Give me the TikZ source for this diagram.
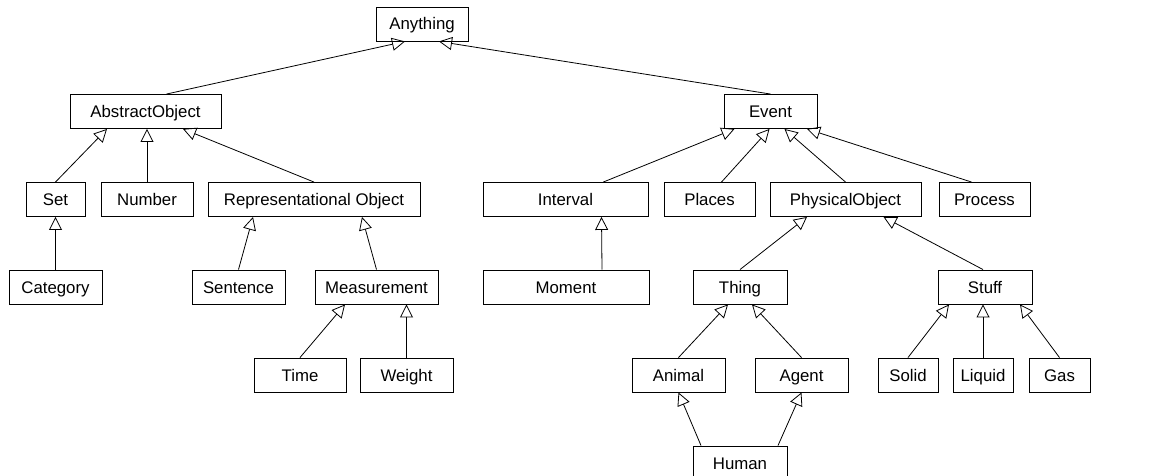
\documentclass[tikz,border=0pt]{standalone}
\usepackage{fontspec}
\setmainfont{Liberation Sans}
\usetikzlibrary{arrows.meta}
\begin{document}
\begin{tikzpicture}[x=1pt,y=-1pt,
  box/.style={draw=black,line width=0.9pt,fill=white,minimum height=34pt,inner sep=0pt,
    text height=13.5pt,text depth=1.5pt,
    font=\fontsize{16.8}{20}\selectfont},
  isa/.style={draw=black,line width=0.8pt,-{Triangle[open,length=13pt,width=13pt,line width=0.8pt]}}]
\useasboundingbox (0,0) rectangle (1170,476);
\node[box,minimum width=92pt]  (anything) at (422,24) {Anything};
\node[box,minimum width=151pt] (abstract) at (145.5,111.5) {AbstractObject};
\node[box,minimum width=93pt]  (event) at (770.5,111.5) {Event};
\node[box,minimum width=59pt]  (set) at (55.5,199.5) {Set};
\node[box,minimum width=92pt]  (number) at (147,199.5) {Number};
\node[box,minimum width=212pt] (repobj) at (314,199.5) {Representational Object};
\node[box,minimum width=165pt] (interval) at (565.5,199.5) {Interval};
\node[box,minimum width=91pt]  (places) at (709.5,199.5) {Places};
\node[box,minimum width=151pt] (physobj) at (845.5,199.5) {PhysicalObject};
\node[box,minimum width=91pt]  (process) at (984.5,199.5) {Process};
\node[box,minimum width=93pt]  (category) at (55.5,287) {Category};
\node[box,minimum width=93pt]  (sentence) at (238.5,287) {Sentence};
\node[box,minimum width=123pt] (measurement) at (376.5,287) {Measurement};
\node[box,minimum width=166pt] (moment) at (566,287) {Moment};
\node[box,minimum width=94pt]  (thing) at (740,287) {Thing};
\node[box,minimum width=94pt]  (stuff) at (985,287) {Stuff};
\node[box,minimum width=92pt]  (time) at (300,375) {Time};
\node[box,minimum width=93pt]  (weight) at (406.5,375) {Weight};
\node[box,minimum width=93pt]  (animal) at (678.5,375) {Animal};
\node[box,minimum width=93pt]  (agent) at (801.5,375) {Agent};
\node[box,minimum width=60pt]  (solid) at (908,375) {Solid};
\node[box,minimum width=60pt]  (liquid) at (983,375) {Liquid};
\node[box,minimum width=61pt]  (gas) at (1059.5,375) {Gas};
\node[box,minimum width=94pt]  (human) at (740,463) {Human};
% connectors
\draw[isa] ([xshift=21pt]abstract.north) -- ([xshift=-17pt]anything.south);
\draw[isa] (event.north) -- ([xshift=17pt]anything.south);
\draw[isa] (set.north) -- ([xshift=-38.5pt]abstract.south);
\draw[isa] (number.north) -- (number.north |- abstract.south);
\draw[isa] (repobj.north) -- ([xshift=37.5pt]abstract.south);
\draw[isa] (category.north) -- (category.north |- set.south);
\draw[isa] (sentence.north) -- ([xshift=-61pt]repobj.south);
\draw[isa] (measurement.north) -- ([xshift=48pt]repobj.south);
\draw[isa] (time.north) -- ([xshift=-31.5pt]measurement.south);
\draw[isa] (weight.north) -- (weight.north |- measurement.south);
\draw[isa] ([xshift=37.8pt]interval.north) -- ([xshift=-36pt]event.south);
\draw[isa] ([xshift=12pt]places.north) -- ([xshift=-1pt]event.south);
\draw[isa] (physobj.north) -- ([xshift=14pt]event.south);
\draw[isa] ([xshift=-13pt]process.north) -- ([xshift=36.5pt]event.south);
\draw[isa] ([xshift=36pt]moment.north) -- ([xshift=36pt]interval.south);
\draw[isa] (thing.north) -- ([xshift=-38.5pt]physobj.south);
\draw[isa] ([xshift=-2pt]stuff.north) -- ([xshift=38pt]physobj.south);
\draw[isa] (animal.north) -- ([xshift=-12pt]thing.south);
\draw[isa] (agent.north) -- ([xshift=12pt]thing.south);
\draw[isa] (solid.north) -- ([xshift=-36pt]stuff.south);
\draw[isa] (liquid.north) -- (liquid.north |- stuff.south);
\draw[isa] (gas.north) -- ([xshift=35pt]stuff.south);
\draw[isa] ([xshift=-39pt]human.north) -- (animal.south);
\draw[isa] ([xshift=38pt]human.north) -- (agent.south);
\end{tikzpicture}
\end{document}
